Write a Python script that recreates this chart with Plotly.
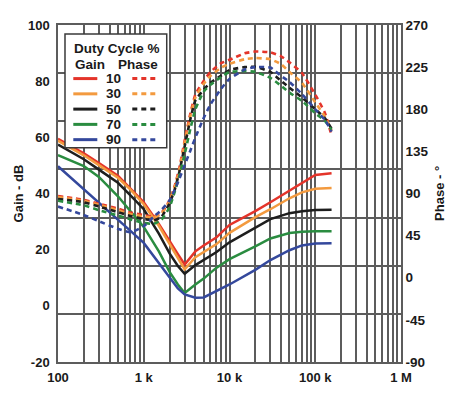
import plotly.graph_objects as go

# ---------------- data ----------------
duty_labels = ["10", "30", "50", "70", "90"]
colors = ["#e4342a", "#f39a3f", "#1e1e1e", "#2a8c40", "#34489c"]

gain_freq = [100, 200, 300, 500, 700, 1000, 1500, 2000, 2500, 3000, 4000, 5000,
             7000, 10000, 20000, 30000, 50000, 70000, 100000, 155000]
gain_10 = [59.5, 54.3, 50.8, 46.3, 41.7, 36.9, 29.2, 22.9, 18.4, 14.7, 19.4, 21.5,
           24.3, 28.8, 33.7, 36.9, 41.0, 43.8, 46.6, 47.2]
gain_30 = [58.8, 53.6, 50.1, 45.6, 41.4, 36.2, 28.5, 21.9, 17.0, 13.0, 17.3, 19.1,
           21.9, 26.0, 31.6, 34.4, 38.3, 40.4, 41.7, 42.0]
gain_50 = [57.4, 52.2, 48.5, 43.8, 39.3, 34.4, 25.7, 18.7, 14.2, 11.4, 14.5, 16.3,
           19.1, 22.6, 27.8, 30.9, 33.0, 33.7, 34.1, 34.2]
gain_70 = [53.7, 49.8, 45.9, 39.0, 33.7, 28.1, 19.4, 12.1, 7.6, 4.6, 7.6, 9.7,
           13.5, 16.6, 21.2, 24.0, 25.9, 26.4, 26.6, 26.6]
gain_90 = [49.7, 41.6, 36.9, 30.8, 26.7, 22.4, 15.2, 10.0, 6.2, 4.1, 2.9, 3.0,
           5.1, 7.6, 12.8, 16.3, 19.8, 21.5, 22.2, 22.3]

phase_freq = [100, 200, 300, 500, 700, 1000, 1300, 1600, 2000, 2300, 2600, 3000,
              3500, 4000, 5000, 6000, 8000, 10000, 15000, 20000, 30000, 40000,
              50000, 70000, 100000, 130000, 155000]
phase_10 = [87.2, 83.2, 79.0, 73.8, 69.6, 67.0, 65.4, 69.1, 82.7, 98.4, 117.2, 146.5,
            175.8, 195.7, 210.3, 219.8, 229.2, 232.8, 239.7, 241.7, 240.7, 236.5,
            230.2, 218.7, 195.7, 175.8, 151.7]
phase_30 = [86.3, 82.2, 78.0, 72.2, 68.0, 65.4, 64.4, 68.0, 81.6, 97.3, 115.1, 144.4,
            172.7, 192.6, 207.2, 215.6, 224.5, 228.7, 233.4, 234.7, 233.4, 228.1,
            219.8, 208.3, 187.3, 171.9, 157.0]
phase_50 = [84.2, 80.6, 76.1, 70.1, 65.9, 62.8, 61.2, 64.9, 79.5, 94.2, 113.0, 140.2,
            169.5, 189.4, 200.9, 208.3, 216.1, 221.9, 225.0, 225.3, 219.8, 210.3,
            203.0, 192.6, 180.0, 170.3, 159.1]
phase_70 = [82.2, 77.4, 72.2, 66.5, 62.3, 58.6, 57.6, 61.7, 75.3, 92.1, 108.8, 131.9,
            159.1, 180.0, 198.8, 206.2, 214.5, 219.8, 220.8, 219.8, 213.5, 205.1,
            197.8, 188.9, 175.8, 167.4, 158.0]
phase_90 = [76.1, 67.0, 60.4, 52.3, 48.7, 55.0, 64.9, 72.2, 82.7, 94.2, 105.7, 120.3,
            136.0, 149.7, 170.6, 185.2, 202.0, 212.4, 222.4, 225.0, 224.5, 215.6,
            209.3, 196.2, 180.0, 168.5, 156.2]

x_tickvals = [100, 1000, 10000, 100000, 1000000]
x_ticktext = ["100", "1 k", "10 k", "100 k", "1 M"]
gain_ticks = [-20, 0, 20, 40, 60, 80, 100]
phase_ticks = [-90, -45, 0, 45, 90, 135, 180, 225, 270]

gains = [gain_10, gain_30, gain_50, gain_70, gain_90]
phases = [phase_10, phase_30, phase_50, phase_70, phase_90]

# ---------------- styles ----------------
FONT = "Liberation Sans, Arial, sans-serif"
GRID = "#5c5c5c"
TXT = "#1a1a1a"
DASH = "5px,4px"

fig = go.Figure()

# invisible trace so the grid-only axis exists
fig.add_trace(go.Scatter(x=[None], y=[None], xaxis="x", yaxis="y3",
                         showlegend=False, hoverinfo="skip"))

for lab, col, g in zip(duty_labels, colors, gains):
    fig.add_trace(go.Scatter(x=gain_freq, y=g, mode="lines", yaxis="y",
                             name=f"Gain {lab}%",
                             line=dict(color=col, width=2.5),
                             showlegend=False))
for lab, col, p in zip(duty_labels, colors, phases):
    fig.add_trace(go.Scatter(x=phase_freq, y=p, mode="lines", yaxis="y2",
                             name=f"Phase {lab}%",
                             line=dict(color=col, width=2.6, dash=DASH, shape="spline", smoothing=0.5),
                             showlegend=False))

minor_vals = [m * 10 ** d for d in range(2, 6) for m in range(2, 10)]
tickfont = dict(family=FONT, size=13, color=TXT, weight="bold")

# page body has an 8px margin, so the figure is sized/margined to compensate
fig.update_layout(
    width=451, height=389, autosize=False,
    margin=dict(l=50, r=58, t=10, b=35),
    paper_bgcolor="white", plot_bgcolor="white",
    showlegend=False,
    xaxis=dict(type="log", range=[2, 6], tickmode="array", tickvals=x_tickvals,
               ticktext=x_ticktext, tickfont=tickfont, ticks="",
               ticklabelstandoff=3,
               showgrid=True, gridcolor=GRID, gridwidth=1.5,
               minor=dict(tickmode="array", tickvals=minor_vals, showgrid=True,
                          gridcolor=GRID, gridwidth=1.5, ticks=""),
               showline=True, mirror=True, linecolor=GRID, linewidth=1.5,
               zeroline=False),
    yaxis=dict(range=[-20, 100], tickmode="array", tickvals=gain_ticks,
               ticktext=[str(v) for v in gain_ticks], tickfont=tickfont,
               ticks="", ticklabelstandoff=4, showgrid=False, zeroline=False,
               showline=True, linecolor=GRID, linewidth=1.5),
    yaxis2=dict(range=[-90, 270], overlaying="y", side="right", tickmode="array",
                tickvals=phase_ticks, ticktext=[str(v) for v in phase_ticks],
                tickfont=dict(family=FONT, size=13.5, color=TXT, weight="bold"),
                ticks="", showgrid=False, zeroline=False,
                showline=True, linecolor=GRID, linewidth=1.5),
    yaxis3=dict(range=[0, 7], overlaying="y", dtick=1, showgrid=True,
                gridcolor=GRID, gridwidth=1.5, showticklabels=False,
                zeroline=False, showline=False, ticks=""),
)

# axis titles
fig.add_annotation(text="Gain - dB", xref="paper", yref="paper", x=-0.114, y=0.5,
                   textangle=-90, showarrow=False, xanchor="center", yanchor="middle",
                   font=dict(family=FONT, size=13, color=TXT, weight="bold"))
fig.add_annotation(text="Phase - °", xref="paper", yref="paper", x=1.112, y=0.5,
                   textangle=-90, showarrow=False, xanchor="center", yanchor="middle",
                   font=dict(family=FONT, size=13, color=TXT, weight="bold"))

# custom legend box
fig.add_shape(type="rect", xref="paper", yref="paper", x0=0.0204, x1=0.317,
              y0=0.636, y1=0.973, fillcolor="white", line=dict(color="#3a3a3a", width=1.5),
              layer="above")
lfont = dict(family=FONT, size=13.5, color=TXT, weight="bold")
fig.add_annotation(text="Duty Cycle %", xref="paper", yref="paper", x=0.171, y=0.930,
                   showarrow=False, xanchor="center", yanchor="middle", font=lfont)
fig.add_annotation(text="Gain", xref="paper", yref="paper", x=0.093, y=0.884,
                   showarrow=False, xanchor="center", yanchor="middle", font=lfont)
fig.add_annotation(text="Phase", xref="paper", yref="paper", x=0.232, y=0.884,
                   showarrow=False, xanchor="center", yanchor="middle", font=lfont)
for i, (lab, col) in enumerate(zip(duty_labels, colors)):
    ry = 0.841 - i * 0.0453
    fig.add_shape(type="line", xref="paper", yref="paper", x0=0.0446, x1=0.1146,
                  y0=ry, y1=ry, line=dict(color=col, width=3), layer="above")
    fig.add_shape(type="line", xref="paper", yref="paper", x0=0.2166, x1=0.2924,
                  y0=ry, y1=ry, line=dict(color=col, width=3, dash=DASH), layer="above")
    fig.add_annotation(text=lab, xref="paper", yref="paper", x=0.1904, y=ry,
                       showarrow=False, xanchor="right", yanchor="middle", font=lfont)

fig.write_html("out.html")
